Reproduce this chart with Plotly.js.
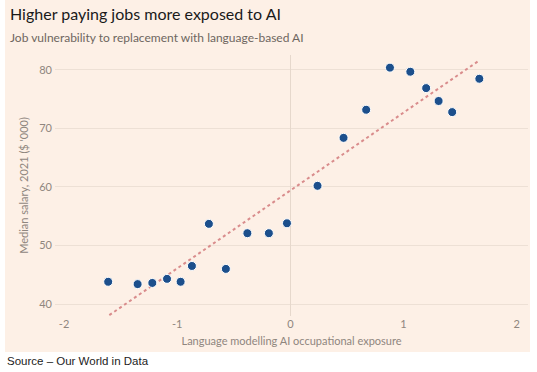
<!DOCTYPE html>
<html>
<head>
<meta charset="utf-8">
<script src="https://cdn.plot.ly/plotly-3.0.1.min.js"></script>
<style>
html,body{margin:0;padding:0;background:#fff;}
#chart{width:537px;height:372px;}
</style>
</head>
<body>
<div id="chart"></div>
<script>
// Data
const exposure = [-1.61, -1.35, -1.22, -1.09, -0.97, -0.87, -0.72, -0.57, -0.38, -0.19, -0.03, 0.24, 0.47, 0.67, 0.88, 1.06, 1.20, 1.31, 1.43, 1.67];
const salary   = [43.8, 43.4, 43.6, 44.3, 43.8, 46.5, 53.7, 46.0, 52.1, 52.1, 53.8, 60.2, 68.4, 73.2, 80.4, 79.7, 76.9, 74.7, 72.8, 78.5];
const trendX = [-1.60, 1.66];
const trendY = [38.1, 81.5];
const xTicks = [-2, -1, 0, 1, 2];
const yTicks = [40, 50, 60, 70, 80];

const peach = '#fdf0e6';
const grey = '#8f867e';

const traces = [
  {
    x: trendX, y: trendY, type: 'scatter', mode: 'lines',
    line: {color: '#d98c8c', width: 2, dash: '3px,3px'},
    hoverinfo: 'skip'
  },
  {
    x: exposure, y: salary, type: 'scatter', mode: 'markers',
    marker: {color: '#1c4f8c', size: 9, line: {color: '#ffffff', width: 1}}
  }
];

const layout = {
  width: 537, height: 372,
  margin: {l: 55, r: 9, t: 55, b: 56},
  paper_bgcolor: '#ffffff',
  plot_bgcolor: 'rgba(0,0,0,0)',
  showlegend: false,
  font: {family: 'Lato, "Open Sans", sans-serif', size: 11, color: grey},
  xaxis: {
    range: [-2.08, 2.10],
    tickvals: xTicks,
    ticktext: xTicks.map(v => v < 0 ? '-' + Math.abs(v) : String(v)),
    showgrid: false,
    zeroline: true, zerolinecolor: '#e6d8cc', zerolinewidth: 1,
    showline: false,
    ticks: '',
    tickfont: {size: 11, color: grey},
    title: {text: 'Language modelling AI occupational exposure', font: {size: 11, color: grey}, standoff: 8}
  },
  yaxis: {
    range: [37.95, 82.56],
    tickvals: yTicks,
    showgrid: true, gridcolor: '#ede0d5', gridwidth: 1,
    zeroline: false, showline: false,
    ticks: '',
    ticklabelstandoff: 2,
    tickfont: {size: 11, color: grey},
    title: {text: "Median salary, 2021 ($ '000)", font: {size: 11, color: grey}, standoff: 8}
  },
  shapes: [
    {type: 'rect', xref: 'paper', yref: 'paper', x0: -0.1057, x1: 1.0042, y0: -0.1379, y1: 1.2107,
     fillcolor: peach, line: {width: 0}, layer: 'below'}
  ],
  annotations: [
    {text: 'Higher paying jobs more exposed to AI', xref: 'paper', yref: 'paper',
     x: -0.0994, y: 1.2107, xanchor: 'left', yanchor: 'top', yshift: -2, showarrow: false,
     font: {family: 'Lato, "Open Sans", sans-serif', size: 16, color: '#1a1a1a'}},
    {text: 'Job vulnerability to replacement with language-based AI', xref: 'paper', yref: 'paper',
     x: -0.0994, y: 1.2107, xanchor: 'left', yanchor: 'top', yshift: -28, showarrow: false,
     font: {family: 'Lato, "Open Sans", sans-serif', size: 12, color: '#6e6660'}},
    {text: 'Source \u2013 Our World in Data', xref: 'paper', yref: 'paper',
     x: -0.1057, y: -0.1379, xanchor: 'left', yanchor: 'top', yshift: -1, showarrow: false,
     font: {family: '"Liberation Sans", Arial, sans-serif', size: 11.5, color: '#222222'}}
  ]
};

Plotly.newPlot('chart', traces, layout, {displayModeBar: false, staticPlot: true});
</script>
</body>
</html>
